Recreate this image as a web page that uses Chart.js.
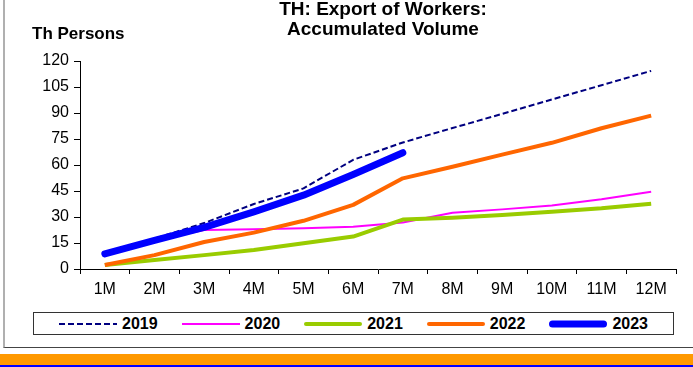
<!DOCTYPE html>
<html>
<head>
<meta charset="utf-8">
<script src="https://cdn.jsdelivr.net/npm/chart.js@4"></script>
<style>
  body { margin: 0; background: #fff; font-family: Arial, "Liberation Sans", sans-serif; }
  #wrap { position: relative; width: 693px; height: 367px; overflow: hidden; }
  #frame { position: absolute; left: 3px; top: -2px; width: 700px; height: 349px;
           border-left: 2px solid #b0b0b0; border-bottom: 1px solid #444; }
  #myChart { position: absolute; left: 0; top: 0; }
  #title { position: absolute; left: 383px; top: -1px; transform: translateX(-50%);
           font-weight: bold; font-size: 19px; line-height: 20px; text-align: center; white-space: nowrap; }
  #unit { position: absolute; left: 32px; top: 25px; font-weight: bold; font-size: 17px; line-height: 17px; }
  #legend { position: absolute; left: 33px; top: 312px; width: 639px; height: 21px;
            border: 1px solid #333; display: flex; align-items: center; justify-content: center; }
  .item { display: flex; align-items: center; margin: 0 12px; font-weight: bold; font-size: 16px; }
  .item svg { margin-right: 5px; }
  #band { position: absolute; left: 0; top: 354px; width: 693px; height: 11px; background: #ff9900; }
  #band2 { position: absolute; left: 0; top: 365px; width: 693px; height: 2px; background: #0000ff; }
</style>
</head>
<body>
<div id="wrap">
  <div id="frame"></div>
  <canvas id="myChart" width="693" height="299"></canvas>
  <div id="title">TH: Export of Workers:<br>Accumulated Volume</div>
  <div id="unit">Th Persons</div>
  <div id="legend"></div>
  <div id="band"></div>
  <div id="band2"></div>
</div>
<script>
// months of the year, cumulative totals in thousand persons
var months = ['1M', '2M', '3M', '4M', '5M', '6M', '7M', '8M', '9M', '10M', '11M', '12M'];
var years = ['2019', '2020', '2021', '2022', '2023'];
var yTicks = [0, 15, 30, 45, 60, 75, 90, 105, 120];

var v2019 = [9, 17.5, 26.5, 37.5, 46.5, 63, 73, 81.3, 89.5, 97.8, 106, 114.3];
var v2020 = [9, 16.5, 22.5, 23, 23.5, 24.4, 26.8, 32.5, 34.4, 36.7, 40.2, 44.6];
var v2021 = [2.3, 5.2, 8, 11, 14.8, 18.7, 28.5, 29.6, 31.2, 33, 35, 37.7];
var v2022 = [2.3, 8, 15.6, 21, 27.8, 37, 52.3, 59, 66, 72.8, 81.2, 88.5];
var v2023 = [8.7, 16.5, 24, 33, 42.6, 54.5, 67.1];

var colors = ['#000080', '#ff00ff', '#99cc00', '#ff6600', '#0000ff'];
var widths = [2, 2, 4, 4, 7];
var dashes = [[6, 3], [], [], [], []];
var values = [v2019, v2020, v2021, v2022, v2023];

var datasets = years.map(function (y, i) {
    return {
        label: y,
        data: values[i],
        borderColor: colors[i],
        backgroundColor: colors[i],
        borderWidth: widths[i],
        borderDash: dashes[i],
        borderCapStyle: i == 4 ? 'round' : 'butt',
        borderJoinStyle: 'round',
        pointRadius: 0,
        tension: 0,
        fill: false,
        // newest year drawn on top
        order: 4 - i
    };
});

var ctx = document.getElementById('myChart').getContext('2d');
var chart = new Chart(ctx, {
    type: 'line',
    data: { labels: months, datasets: datasets },
    options: {
        responsive: false,
        animation: false,
        layout: { padding: { top: 61, right: 17, bottom: 0, left: 0 } },
        plugins: { legend: { display: false }, title: { display: false }, tooltip: { enabled: false } },
        scales: {
            x: {
                offset: true,
                grid: { offset: true, drawOnChartArea: false, tickLength: 5, tickColor: '#000' },
                border: { color: '#000' },
                ticks: { color: '#000', font: { family: 'Arial', size: 16 }, padding: 6, autoSkip: false, maxRotation: 0 },
                afterFit: function (scale) { scale.height = 30; }
            },
            y: {
                min: 0,
                max: 120,
                afterBuildTicks: function (scale) { scale.ticks = yTicks.map(function (v) { return { value: v }; }); },
                grid: { drawOnChartArea: false, tickLength: 6, tickColor: '#000' },
                border: { color: '#000' },
                ticks: { color: '#000', font: { family: 'Arial', size: 16 }, padding: 5 },
                afterFit: function (scale) { scale.width = 80; }
            }
        }
    }
});

// legend row with line samples
var legend = document.getElementById('legend');
years.forEach(function (y, i) {
    var dash = dashes[i].length ? 'stroke-dasharray="' + dashes[i].join(' ') + '"' : '';
    var cap = i >= 2 ? 'round' : 'butt';
    var pad = widths[i] / 2;
    legend.insertAdjacentHTML('beforeend',
        '<div class="item"><svg width="58" height="10"><line x1="' + (cap == 'round' ? pad : 0) + '" y1="5" x2="' +
        (cap == 'round' ? 58 - pad : 58) + '" y2="5" stroke="' + colors[i] + '" stroke-width="' + widths[i] +
        '" stroke-linecap="' + cap + '" ' + dash + '/></svg>' + y + '</div>');
});
</script>
</body>
</html>
